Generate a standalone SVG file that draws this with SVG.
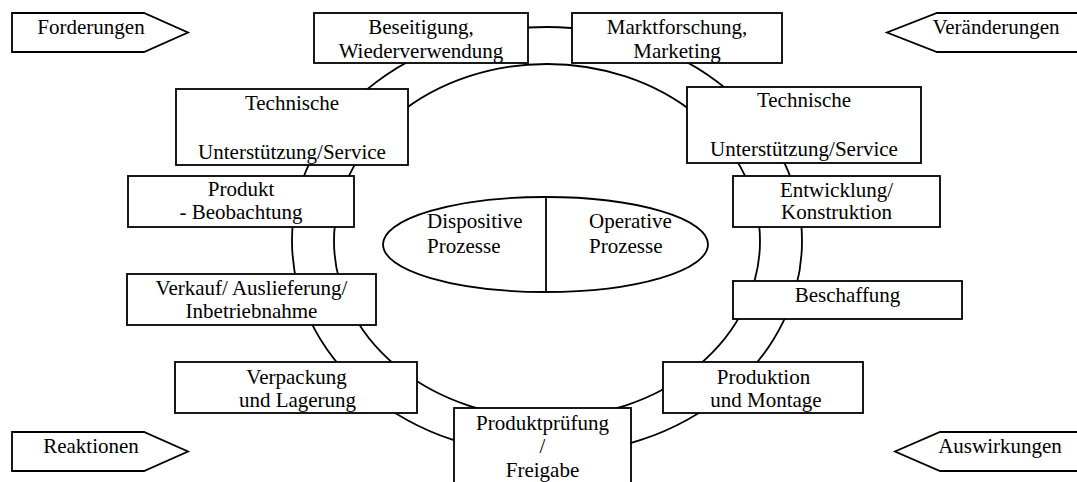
<svg xmlns="http://www.w3.org/2000/svg" width="1077" height="482" viewBox="0 0 1077 482">
  <style>
    .box { fill: #ffffff; stroke: #000000; stroke-width: 1.8; }
    .ring { fill: none; stroke: #000000; stroke-width: 1.8; }
    .lbl { font-family: 'Liberation Serif', 'DejaVu Serif', serif; font-size: 21px; fill: #000000; }
    .mid { text-anchor: middle; }
  </style>
  <rect width="1077" height="482" fill="#ffffff"/>

  <!-- process ring -->
  <g id="connectors">
    <ellipse class="ring" cx="547" cy="241" rx="255" ry="214"/>
    <ellipse class="ring" cx="547" cy="241" rx="213" ry="177"/>
  </g>

  <!-- corner arrows -->
  <g id="forderungen">
    <polygon class="box" points="12,13 144,13 188,32.5 144,52 12,52"/>
    <text class="lbl mid" x="91" y="33.5">Forderungen</text>
  </g>
  <g id="veraenderungen">
    <polygon class="box" points="1082,13 937,13 887,32.5 937,52 1082,52"/>
    <text class="lbl mid" x="996" y="33.5">Veränderungen</text>
  </g>
  <g id="reaktionen">
    <polygon class="box" points="12,432 144,432 188,451.5 144,471 12,471"/>
    <text class="lbl mid" x="91" y="452.5">Reaktionen</text>
  </g>
  <g id="auswirkungen">
    <polygon class="box" points="1082,432 940,432 895,451.5 940,471 1082,471"/>
    <text class="lbl mid" x="1000" y="452.5">Auswirkungen</text>
  </g>

  <!-- central ellipse -->
  <g id="prozesse">
    <ellipse class="box" cx="545.5" cy="244.5" rx="162.5" ry="47.5"/>
    <line x1="546" y1="197" x2="546" y2="292" stroke="#000000" stroke-width="1.8"/>
    <text class="lbl" x="427" y="228">Dispositive</text>
    <text class="lbl" x="427" y="253">Prozesse</text>
    <text class="lbl" x="589" y="228">Operative</text>
    <text class="lbl" x="589" y="253">Prozesse</text>
  </g>

  <!-- process steps -->
  <g id="beseitigung">
    <rect class="box" x="314" y="13" width="214" height="50"/>
    <text class="lbl mid" x="421" y="34">Beseitigung,</text>
    <text class="lbl mid" x="421" y="58">Wiederverwendung</text>
  </g>
  <g id="marktforschung">
    <rect class="box" x="572" y="13" width="210" height="50"/>
    <text class="lbl mid" x="677" y="34">Marktforschung,</text>
    <text class="lbl mid" x="677" y="58">Marketing</text>
  </g>
  <g id="service-links">
    <rect class="box" x="176" y="89" width="232" height="76"/>
    <text class="lbl mid" x="292" y="110">Technische</text>
    <text class="lbl mid" x="292" y="159">Unterstützung/Service</text>
  </g>
  <g id="service-rechts">
    <rect class="box" x="687" y="87" width="234" height="76"/>
    <text class="lbl mid" x="804" y="107">Technische</text>
    <text class="lbl mid" x="804" y="156">Unterstützung/Service</text>
  </g>
  <g id="beobachtung">
    <rect class="box" x="128" y="176" width="226" height="51"/>
    <text class="lbl mid" x="241" y="196">Produkt</text>
    <text class="lbl mid" x="241" y="219">- Beobachtung</text>
  </g>
  <g id="entwicklung">
    <rect class="box" x="733" y="176" width="207" height="51"/>
    <text class="lbl mid" x="836.5" y="197">Entwicklung/</text>
    <text class="lbl mid" x="836.5" y="219">Konstruktion</text>
  </g>
  <g id="verkauf">
    <rect class="box" x="127" y="274" width="249" height="51"/>
    <text class="lbl mid" x="251.5" y="295">Verkauf/ Auslieferung/</text>
    <text class="lbl mid" x="251.5" y="318">Inbetriebnahme</text>
  </g>
  <g id="beschaffung">
    <rect class="box" x="733" y="281" width="229" height="38"/>
    <text class="lbl mid" x="847.5" y="302">Beschaffung</text>
  </g>
  <g id="verpackung">
    <rect class="box" x="175" y="362" width="242" height="51"/>
    <text class="lbl mid" x="296.5" y="384">Verpackung</text>
    <text class="lbl mid" x="297.5" y="407">und Lagerung</text>
  </g>
  <g id="produktion">
    <rect class="box" x="663" y="362" width="200" height="51"/>
    <text class="lbl mid" x="763.5" y="384">Produktion</text>
    <text class="lbl mid" x="766" y="407">und Montage</text>
  </g>
  <g id="pruefung">
    <rect class="box" x="454" y="408" width="177" height="80"/>
    <text class="lbl mid" x="542.5" y="430">Produktprüfung</text>
    <text class="lbl mid" x="542.5" y="453">/</text>
    <text class="lbl mid" x="542.5" y="477">Freigabe</text>
  </g>
</svg>
